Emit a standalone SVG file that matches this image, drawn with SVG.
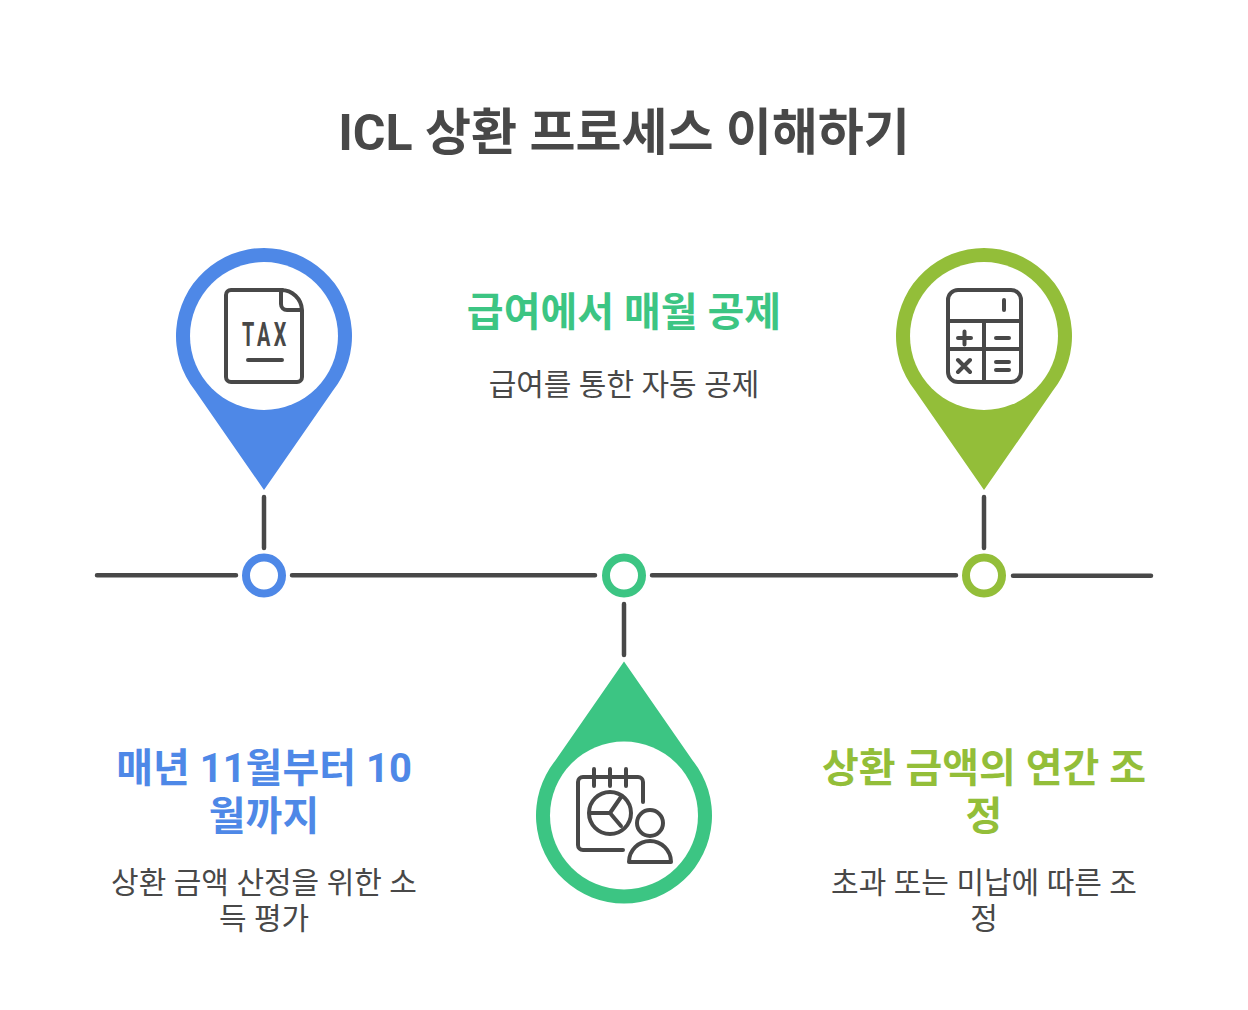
<svg xmlns="http://www.w3.org/2000/svg" width="1248" height="1010" viewBox="0 0 1248 1010">
<style>
text{font-family:"Roboto","Noto Sans CJK KR",sans-serif;text-anchor:middle}
.title{font-size:50px;font-weight:700;fill:#484848}
.head{font-size:40px;font-weight:700}
.sub{font-size:30px;font-weight:400;fill:#484848}
.ln{fill:none;stroke:#484848;stroke-width:4;stroke-linecap:round;stroke-linejoin:round}
.conn{stroke-width:4.500}
.hole{fill:#fff}
.ring{fill:#fff;stroke-width:8}
</style>
<defs>
<path id="pin" d="M0 154L-69 54.600A88 88 0 1 1 69 54.600Z"/>
</defs>
<rect width="1248" height="1010" fill="#fff"/>
<text class="title" x="624" y="150">ICL 상환 프로세스 이해하기</text>
<g id="connectors" class="ln conn">
<path d="M97 575.300H236M292 575.300H595M652 575.300H956M1013 575.800H1151"/>
<path d="M264 497V548M624 604V655M984 497V548"/>
</g>
<g id="node-1">
<use href="#pin" x="264" y="336" fill="#4E88E7"/>
<circle class="hole" cx="264" cy="336" r="74"/>
<path class="ln" d="M283 290H231a5 5 0 0 0-5 5V377a5 5 0 0 0 5 5H297a5 5 0 0 0 5-5V310A21 21 0 0 0 281 290V304a6 6 0 0 0 6 6H302M248 360H282"/>
<text transform="translate(266 346) scale(.6 1)" font-size="33" font-weight="700" letter-spacing="6" fill="#484848">TAX</text>
<circle class="ring" cx="264" cy="575.500" r="18" stroke="#4E88E7"/>
<text class="head" x="264" y="782" fill="#4E88E7">매년 11월부터 10</text>
<text class="head" x="264" y="830" fill="#4E88E7">월까지</text>
<text class="sub" x="264" y="893">상환 금액 산정을 위한 소</text>
<text class="sub" x="264" y="929">득 평가</text>
</g>
<g id="node-2">
<use href="#pin" transform="translate(624 815.500) scale(1 -1)" fill="#3CC583"/>
<circle class="hole" cx="624" cy="815.500" r="74"/>
<path class="ln" d="M623 850H583a5 5 0 0 1-5-5V782a5 5 0 0 1 5-5H638a5 5 0 0 1 5 5V802M594 769V786M610 769V786M626 769V786"/>
<circle class="ln" cx="610" cy="813" r="21"/>
<path class="ln" d="M590 813H610L621 797M610 813L621 826"/>
<circle class="ln" cx="650" cy="823" r="13"/>
<path class="ln" d="M629 862a21 21 0 0 1 42 0Z"/>
<circle class="ring" cx="624" cy="575.500" r="18" stroke="#3CC583"/>
<text class="head" x="624" y="326" fill="#3CC583">급여에서 매월 공제</text>
<text class="sub" x="624" y="395">급여를 통한 자동 공제</text>
</g>
<g id="node-3">
<use href="#pin" x="984" y="336" fill="#93BE39"/>
<circle class="hole" cx="984" cy="336" r="74"/>
<rect class="ln" x="948" y="290" width="73" height="92" rx="10"/>
<path class="ln" d="M948 321H1021M948 349H1021M984 321V382M1004 300V310M958 338H971M964.500 331.500V344.500M996 338H1009M958 360L970 372M970 360L958 372M996 362H1009M996 370H1009"/>
<circle class="ring" cx="984" cy="575.500" r="18" stroke="#93BE39"/>
<text class="head" x="984" y="782" fill="#93BE39">상환 금액의 연간 조</text>
<text class="head" x="984" y="830" fill="#93BE39">정</text>
<text class="sub" x="984" y="893">초과 또는 미납에 따른 조</text>
<text class="sub" x="984" y="929">정</text>
</g>
</svg>
